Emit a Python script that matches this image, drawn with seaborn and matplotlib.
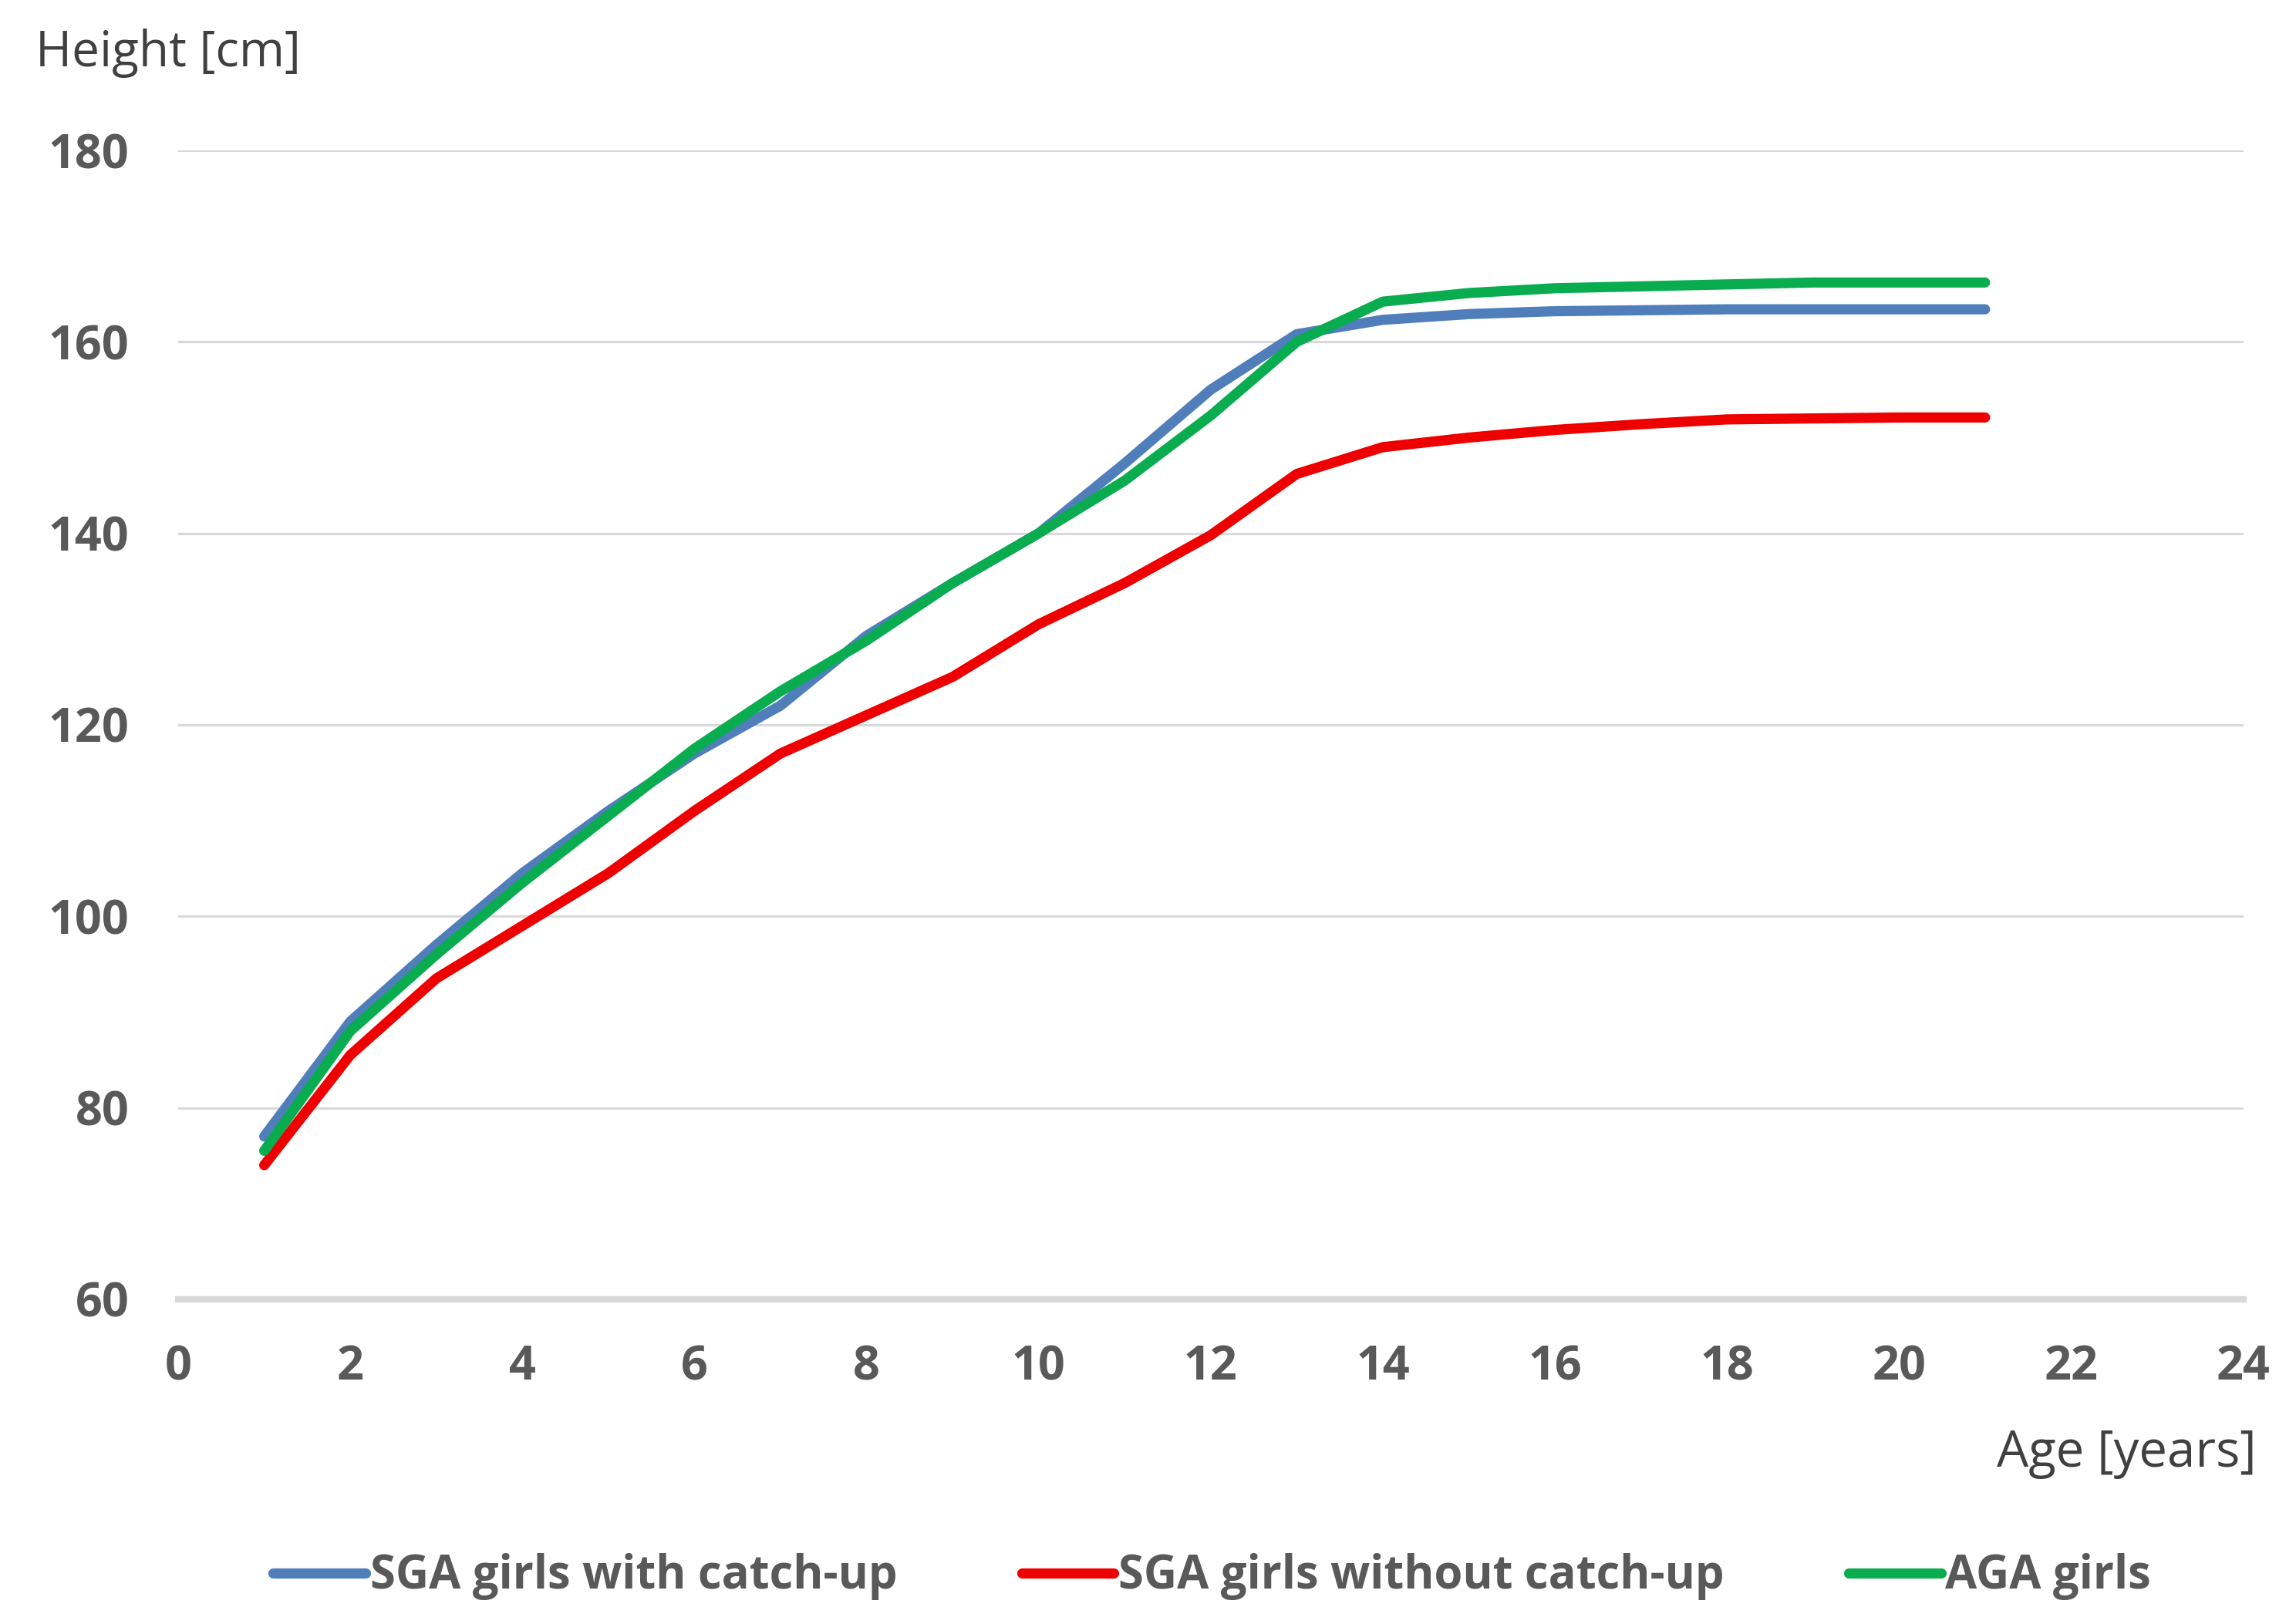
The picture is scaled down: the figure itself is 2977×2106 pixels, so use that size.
import matplotlib
matplotlib.use("Agg")
import matplotlib.pyplot as plt
import seaborn as sns
import pandas as pd

# ---- data ----
ages = list(range(1, 22))
sga_catchup = [77.0, 89.0, 97.0, 104.5, 111.0, 117.0, 122.0, 129.3, 134.8, 140.0, 147.3,
               155.0, 160.8, 162.3, 162.9, 163.2, 163.3, 163.4, 163.4, 163.4, 163.4]
sga_no_catchup = [74.0, 85.5, 93.5, 99.0, 104.5, 111.0, 117.0, 121.0, 125.0, 130.5, 134.8,
                  139.8, 146.2, 149.0, 150.0, 150.8, 151.4, 151.9, 152.0, 152.1, 152.1]
aga = [75.5, 88.0, 96.0, 103.5, 110.5, 117.5, 123.5, 128.8, 134.8, 140.0, 145.5,
       152.3, 160.0, 164.2, 165.1, 165.6, 165.8, 166.0, 166.2, 166.2, 166.2]
series_names = ["SGA girls with catch-up", "SGA girls without catch-up", "AGA girls"]
x_ticks = list(range(0, 25, 2))
y_ticks = list(range(60, 181, 20))

df = pd.DataFrame({
    "age": ages * 3,
    "height": sga_catchup + sga_no_catchup + aga,
    "group": [series_names[0]] * len(ages) + [series_names[1]] * len(ages) + [series_names[2]] * len(ages),
})

palette = {series_names[0]: "#4F7EBA", series_names[1]: "#EE0000", series_names[2]: "#0AAC50"}

sns.set_theme(style="white")
plt.rcParams["font.family"] = ["Open Sans", "DejaVu Sans"]

fig = plt.figure(figsize=(29.77, 21.06), dpi=100)
ax = fig.add_axes([0.0776, 0.2, 0.977 - 0.0776, 0.9074 - 0.2])

sns.lineplot(data=df, x="age", y="height", hue="group", palette=palette,
             hue_order=series_names, estimator=None, sort=False,
             linewidth=9.5, solid_capstyle="round", solid_joinstyle="round", ax=ax)

ax.set_xlim(0, 24)
ax.set_ylim(60, 180)
ax.set_xticks(x_ticks)
ax.set_yticks(y_ticks)
ax.set_xlabel("")
ax.set_ylabel("")
ax.grid(axis="y", color="#D9D9D9", linewidth=2.2)
ax.grid(axis="x", visible=False)
ax.set_axisbelow(True)
for s in ["top", "right", "left"]:
    ax.spines[s].set_visible(False)
ax.spines["bottom"].set_color("#D9D9D9")
ax.spines["bottom"].set_linewidth(6)
ax.tick_params(axis="both", length=0, labelsize=44, labelcolor="#595959")
ax.tick_params(axis="x", pad=42)
ax.tick_params(axis="y", pad=46)
for lab in ax.get_xticklabels() + ax.get_yticklabels():
    lab.set_fontweight("bold")

fig.text(0.0155, 0.967, "Height [cm]", fontsize=46, color="#404040", ha="left", va="center")
fig.text(0.9828, 0.105, "Age [years]", fontsize=47, color="#404040", ha="right", va="center")

handles, labels = ax.get_legend_handles_labels()
ax.get_legend().remove()
leg = fig.legend(handles, labels, loc="center", bbox_to_anchor=(0.528, 0.029), ncol=3,
                 frameon=False, handlelength=2.0, handletextpad=0.1, columnspacing=2.7,
                 prop={"size": 43, "weight": "bold"})
for t in leg.get_texts():
    t.set_color("#595959")
for h in leg.get_lines():
    h.set_linewidth(9.5)

fig.savefig("out.png", dpi=100, facecolor="white")
